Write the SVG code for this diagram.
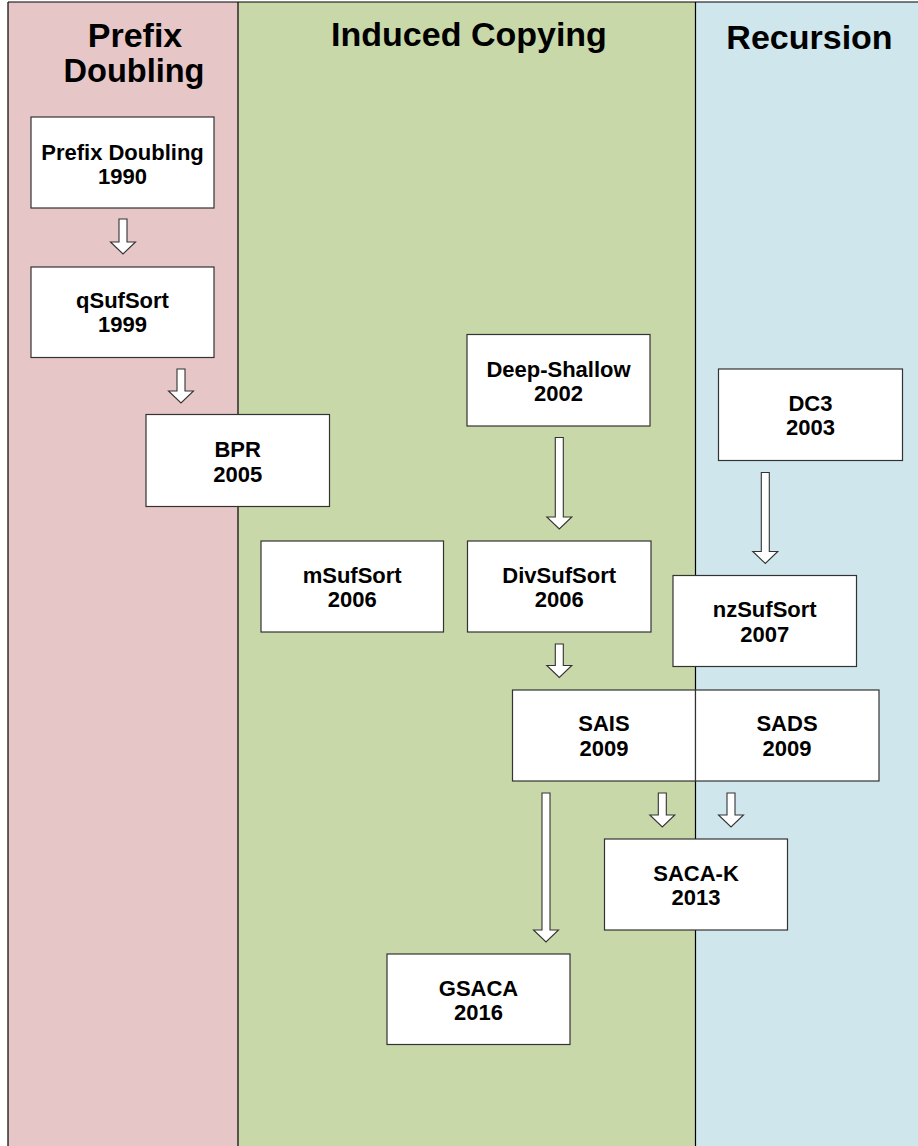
<svg xmlns="http://www.w3.org/2000/svg" width="918" height="1146" viewBox="0 0 918 1146">
  <style>
    .lane-line { stroke: #000; stroke-width: 1.2; fill: none; }
    .head { font-family: "Liberation Sans", Arial, sans-serif; font-weight: bold; font-size: 34px; fill: #000; text-anchor: middle; }
    .box { fill: #fff; stroke: #333; stroke-width: 1.2; }
    .lbl { font-family: "Liberation Sans", Arial, sans-serif; font-weight: bold; font-size: 22px; fill: #000; text-anchor: middle; }
    .arrow { fill: #fff; stroke: #333; stroke-width: 1.1; stroke-linejoin: miter; }
  </style>

  <!-- swimlanes -->
  <g id="lanes">
    <rect x="8" y="2" width="230" height="1150" fill="#E6C6C6"/>
    <rect x="238" y="2" width="457.5" height="1150" fill="#C8D8A8"/>
    <rect x="695.5" y="2" width="230" height="1150" fill="#CFE6EC"/>
    <line class="lane-line" x1="8" y1="2" x2="918" y2="2"/>
    <line class="lane-line" x1="8" y1="2" x2="8" y2="1146"/>
    <line class="lane-line" x1="238" y1="2" x2="238" y2="1146"/>
    <line class="lane-line" x1="695.5" y1="2" x2="695.5" y2="1146"/>
  </g>

  <g id="lane-titles">
    <text class="head" x="135" y="47">Prefix</text>
    <text class="head" x="134" y="82" textLength="141" lengthAdjust="spacingAndGlyphs">Doubling</text>
    <text class="head" x="469" y="46">Induced Copying</text>
    <text class="head" x="809.5" y="49">Recursion</text>
  </g>

  <!-- connectors: block arrows pointing down -->
  <g id="connectors">
    <path class="arrow" d="M119,219 H127 V242 H135.5 L123,254 L110.5,242 H119 Z"/>
    <path class="arrow" d="M177,369 H185 V391 H193.5 L181,403 L168.5,391 H177 Z"/>
    <path class="arrow" d="M555.3,437.5 H563.3 V517 H571.8 L559.3,529 L546.8,517 H555.3 Z"/>
    <path class="arrow" d="M761.3,472.5 H769.3 V551.5 H777.8 L765.3,563.5 L752.8,551.5 H761.3 Z"/>
    <path class="arrow" d="M555.3,644 H563.3 V665.5 H571.8 L559.3,677.5 L546.8,665.5 H555.3 Z"/>
    <path class="arrow" d="M542,793 H550 V930 H558.5 L546,942 L533.5,930 H542 Z"/>
    <path class="arrow" d="M658.3,793 H666.3 V815 H674.8 L662.3,827 L649.8,815 H658.3 Z"/>
    <path class="arrow" d="M727,793 H735 V815 H743.5 L731,827 L718.5,815 H727 Z"/>
  </g>

  <!-- algorithm nodes -->
  <g id="prefix-doubling">
    <rect class="box" x="31" y="117" width="183" height="91"/>
    <text class="lbl" x="122.5" y="159.5">Prefix Doubling</text>
    <text class="lbl" x="122.5" y="183.5">1990</text>
  </g>
  <g id="qsufsort">
    <rect class="box" x="31" y="267" width="183" height="90.5"/>
    <text class="lbl" x="122.5" y="308">qSufSort</text>
    <text class="lbl" x="122.5" y="332">1999</text>
  </g>
  <g id="bpr">
    <rect class="box" x="146" y="414.5" width="183.5" height="92"/>
    <text class="lbl" x="237.7" y="457">BPR</text>
    <text class="lbl" x="237.7" y="481.5">2005</text>
  </g>
  <g id="deep-shallow">
    <rect class="box" x="467" y="334.5" width="183" height="91.5"/>
    <text class="lbl" x="558.5" y="377">Deep-Shallow</text>
    <text class="lbl" x="558.5" y="401">2002</text>
  </g>
  <g id="dc3">
    <rect class="box" x="718.5" y="369" width="184" height="91.5"/>
    <text class="lbl" x="810.5" y="410.5">DC3</text>
    <text class="lbl" x="810.5" y="435">2003</text>
  </g>
  <g id="msufsort">
    <rect class="box" x="261" y="541" width="182.5" height="91"/>
    <text class="lbl" x="352.2" y="583">mSufSort</text>
    <text class="lbl" x="352.2" y="606.5">2006</text>
  </g>
  <g id="divsufsort">
    <rect class="box" x="467.5" y="541" width="183.5" height="91"/>
    <text class="lbl" x="559.2" y="583">DivSufSort</text>
    <text class="lbl" x="559.2" y="607">2006</text>
  </g>
  <g id="nzsufsort">
    <rect class="box" x="673" y="575.5" width="183.5" height="91"/>
    <text class="lbl" x="764.7" y="617">nzSufSort</text>
    <text class="lbl" x="764.7" y="641.5">2007</text>
  </g>
  <g id="sais">
    <rect class="box" x="512.5" y="690" width="183" height="91"/>
    <text class="lbl" x="604" y="731">SAIS</text>
    <text class="lbl" x="604" y="756">2009</text>
  </g>
  <g id="sads">
    <rect class="box" x="695.5" y="690" width="183.5" height="91"/>
    <text class="lbl" x="787" y="731">SADS</text>
    <text class="lbl" x="787" y="756">2009</text>
  </g>
  <g id="saca-k">
    <rect class="box" x="604.5" y="839" width="183" height="91"/>
    <text class="lbl" x="696" y="880.5">SACA-K</text>
    <text class="lbl" x="696" y="905">2013</text>
  </g>
  <g id="gsaca">
    <rect class="box" x="387" y="954" width="183" height="90.5"/>
    <text class="lbl" x="478.5" y="996">GSACA</text>
    <text class="lbl" x="478.5" y="1020">2016</text>
  </g>
</svg>
